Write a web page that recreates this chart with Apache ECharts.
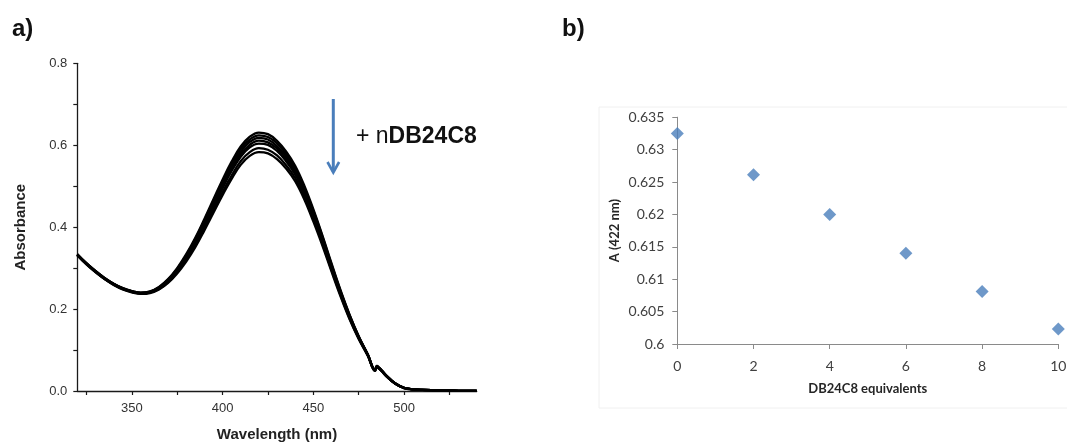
<!DOCTYPE html>
<html>
<head>
<meta charset="utf-8">
<script src="https://cdn.jsdelivr.net/npm/echarts/dist/echarts.min.js"></script>
<style>
  html, body { margin: 0; padding: 0; background: #ffffff; }
  #chart { width: 1067px; height: 443px; }
</style>
</head>
<body>
<div id="chart"></div>
<script>
// UV-vis titration spectra (absorbance vs wavelength, nm)
const wavelengths = [320, 325, 330, 335, 340, 345, 350, 355, 360, 365, 370, 375, 380, 385, 390, 395, 400, 405, 410, 415, 420, 425, 430, 435, 440, 445, 450, 455, 460, 465, 470, 475, 480, 484, 485, 486, 488, 490, 495, 500, 505, 510, 520, 530, 540];

const spectrum0 = [.334, .312, .293, .276, .262, .251, .244, .240, .243, .254, .273, .300, .334, .374, .420, .468, .516, .560, .597, .621, .631, .627, .611, .585, .550, .502, .444, .380, .312, .246, .186, .134, .090, .052, .061, .058, .049, .039, .019, .008, .004, .0025, .001, .0005, .0003];
const spectrum1 = [.334, .312, .293, .276, .262, .251, .244, .240, .242, .253, .272, .298, .331, .371, .416, .463, .511, .554, .591, .614, .624, .620, .605, .579, .545, .497, .440, .377, .309, .244, .185, .133, .089, .052, .061, .058, .049, .039, .019, .008, .004, .0025, .001, .0005, .0003];
const spectrum2 = [.333, .311, .292, .275, .261, .250, .243, .239, .242, .252, .270, .296, .329, .368, .412, .459, .505, .548, .584, .608, .618, .614, .598, .573, .539, .493, .436, .373, .306, .242, .183, .132, .089, .051, .060, .057, .048, .038, .019, .008, .004, .0025, .001, .0005, .0003];
const spectrum3 = [.333, .311, .292, .275, .261, .250, .243, .239, .241, .252, .269, .295, .326, .364, .408, .454, .500, .542, .578, .601, .611, .607, .592, .567, .534, .488, .431, .370, .304, .240, .181, .131, .088, .051, .060, .057, .048, .038, .019, .008, .004, .0025, .001, .0005, .0003];
const spectrum4 = [.332, .310, .291, .274, .260, .249, .242, .238, .241, .251, .268, .293, .324, .361, .404, .450, .495, .537, .572, .595, .604, .601, .586, .561, .529, .483, .427, .366, .301, .238, .180, .130, .088, .050, .059, .056, .048, .038, .018, .007, .004, .0025, .001, .0005, .0003];
const spectrum5 = [.332, .310, .291, .274, .260, .249, .242, .238, .240, .249, .266, .290, .320, .356, .398, .442, .486, .526, .561, .583, .593, .589, .575, .551, .520, .475, .420, .360, .296, .234, .177, .128, .087, .050, .059, .056, .047, .037, .018, .007, .004, .0025, .001, .0005, .0003];
const spectrum6 = [.331, .309, .290, .273, .259, .248, .241, .237, .239, .248, .264, .287, .316, .351, .392, .435, .478, .518, .552, .574, .583, .580, .566, .543, .512, .468, .414, .355, .292, .231, .175, .127, .086, .049, .058, .055, .047, .037, .018, .007, .004, .0025, .001, .0005, .0003];

// Absorbance at 422 nm vs equivalents of DB24C8
const equivalents = [0, 2, 4, 6, 8, 10];
const absorbance422 = [0.6325, 0.6261, 0.6200, 0.6140, 0.6081, 0.6023];

// Tick / label positions for panel a
const wavelengthTicks = [325, 350, 375, 400, 425, 450, 475, 500, 525];
const wavelengthLabels = [350, 400, 450, 500];
const absorbanceTicks = [0, 0.1, 0.2, 0.3, 0.4, 0.5, 0.6, 0.7, 0.8];
const absorbanceLabels = [0, 0.2, 0.4, 0.6, 0.8];

const spectra = [spectrum0, spectrum1, spectrum2, spectrum3, spectrum4, spectrum5, spectrum6];

const chart = echarts.init(document.getElementById('chart'), null, { renderer: 'canvas' });

const arialFont = "'Liberation Sans', Arial, sans-serif";
const excelFont = "Lato, 'Open Sans', sans-serif";
const panelAxis = '#1a1a1a';
const excelAxis = '#8a8a8a';
const markerBlue = '#4a7ebb';

const spectrumSeries = spectra.map((s, k) => ({
  type: 'line',
  name: 'spectrum ' + k,
  xAxisIndex: 0,
  yAxisIndex: 0,
  data: wavelengths.map((w, i) => [w, s[i]]),
  showSymbol: false,
  smooth: 0.4,
  lineStyle: { color: '#000000', width: 2.3 },
  silent: true
}));

const option = {
  animation: false,
  backgroundColor: '#ffffff',
  grid: [
    { left: 77.3, right: 590.3, top: 63.3, bottom: 52, outerBoundsMode: 'none', containLabel: false },
    { left: 677.3, right: 8.7, top: 117.2, bottom: 99, outerBoundsMode: 'none', containLabel: false }
  ],
  xAxis: [
    {
      type: 'value', gridIndex: 0, min: 320, max: 540,
      name: 'Wavelength (nm)', nameLocation: 'middle', nameGap: 36,
      nameMoveOverlap: false,
      nameTextStyle: { fontFamily: arialFont, fontWeight: 'bold', fontSize: 15, color: '#222' },
      axisLine: { onZero: false, lineStyle: { color: panelAxis, width: 1.3 } },
      axisTick: { show: true, inside: false, length: 4, customValues: wavelengthTicks, lineStyle: { color: panelAxis, width: 1.2 } },
      axisLabel: { customValues: wavelengthLabels, margin: 11, fontFamily: arialFont, fontSize: 13, color: '#333' },
      splitLine: { show: false }
    },
    {
      type: 'value', gridIndex: 1, min: 0, max: 10, interval: 2,
      name: 'DB24C8 equivalents', nameLocation: 'middle', nameGap: 38,
      nameMoveOverlap: false,
      nameTextStyle: { fontFamily: excelFont, fontWeight: 'bold', fontSize: 13, color: '#262626' },
      axisLine: { onZero: false, lineStyle: { color: excelAxis, width: 1 } },
      axisTick: { show: true, inside: false, length: 5, lineStyle: { color: excelAxis } },
      axisLabel: { margin: 15, fontFamily: excelFont, fontSize: 14, color: '#404040' },
      splitLine: { show: false }
    }
  ],
  yAxis: [
    {
      type: 'value', gridIndex: 0, min: 0, max: 0.8,
      name: 'Absorbance', nameLocation: 'middle', nameGap: 49, nameRotate: 90,
      nameMoveOverlap: false,
      nameTextStyle: { fontFamily: arialFont, fontWeight: 'bold', fontSize: 15, color: '#222' },
      axisLine: { show: true, onZero: false, lineStyle: { color: panelAxis, width: 1.3 } },
      axisTick: { show: true, inside: false, length: 4, customValues: absorbanceTicks, lineStyle: { color: panelAxis, width: 1.2 } },
      axisLabel: { customValues: absorbanceLabels, margin: 10, fontFamily: arialFont, fontSize: 13, color: '#333',
        formatter: v => v.toFixed(1) },
      splitLine: { show: false }
    },
    {
      type: 'value', gridIndex: 1, min: 0.6, max: 0.635, interval: 0.005,
      name: 'A (422 nm)', nameLocation: 'middle', nameGap: 56, nameRotate: 90,
      nameMoveOverlap: false,
      nameTextStyle: { fontFamily: excelFont, fontWeight: 'bold', fontSize: 13, color: '#262626' },
      axisLine: { show: true, onZero: false, lineStyle: { color: excelAxis, width: 1 } },
      axisTick: { show: true, inside: false, length: 5, lineStyle: { color: excelAxis } },
      axisLabel: { margin: 13, fontFamily: excelFont, fontSize: 14, color: '#404040',
        formatter: v => String(parseFloat(v.toFixed(3))) },
      splitLine: { show: false }
    }
  ],
  series: spectrumSeries.concat([
    {
      type: 'scatter',
      name: 'A (422 nm)',
      xAxisIndex: 1,
      yAxisIndex: 1,
      data: equivalents.map((e, i) => [e, absorbance422[i]]),
      symbol: 'diamond',
      symbolSize: [13, 13],
      itemStyle: { color: markerBlue },
      silent: true
    }
  ]),
  graphic: [
    // faint frame of the spreadsheet chart area
    { type: 'rect', silent: true, z: -1,
      shape: { x: 599, y: 107, width: 480, height: 301 },
      style: { fill: null, stroke: '#f0f0f0', lineWidth: 1 } },
    { type: 'text', left: 12, top: 17, silent: true,
      style: { text: 'a)', font: "bold 24px 'Liberation Sans', Arial, sans-serif", fill: '#111' } },
    { type: 'text', left: 562, top: 17, silent: true,
      style: { text: 'b)', font: "bold 24px 'Liberation Sans', Arial, sans-serif", fill: '#111' } },
    // downward arrow marking the titration direction
    { type: 'line', silent: true,
      shape: { x1: 333.3, y1: 99, x2: 333.3, y2: 172 },
      style: { stroke: markerBlue, lineWidth: 3 } },
    { type: 'polyline', silent: true,
      shape: { points: [[327.5, 162], [333.3, 172.5], [339.1, 162]] },
      style: { stroke: markerBlue, lineWidth: 2.6, fill: null } },
    { type: 'text', left: 356, top: 125, silent: true,
      style: {
        text: '{r|+ n}{b|DB24C8}',
        rich: {
          r: { fontFamily: arialFont, fontSize: 23, fill: '#111' },
          b: { fontFamily: arialFont, fontSize: 23, fontWeight: 'bold', fill: '#111' }
        }
      } }
  ]
};

chart.setOption(option);
</script>
</body>
</html>
